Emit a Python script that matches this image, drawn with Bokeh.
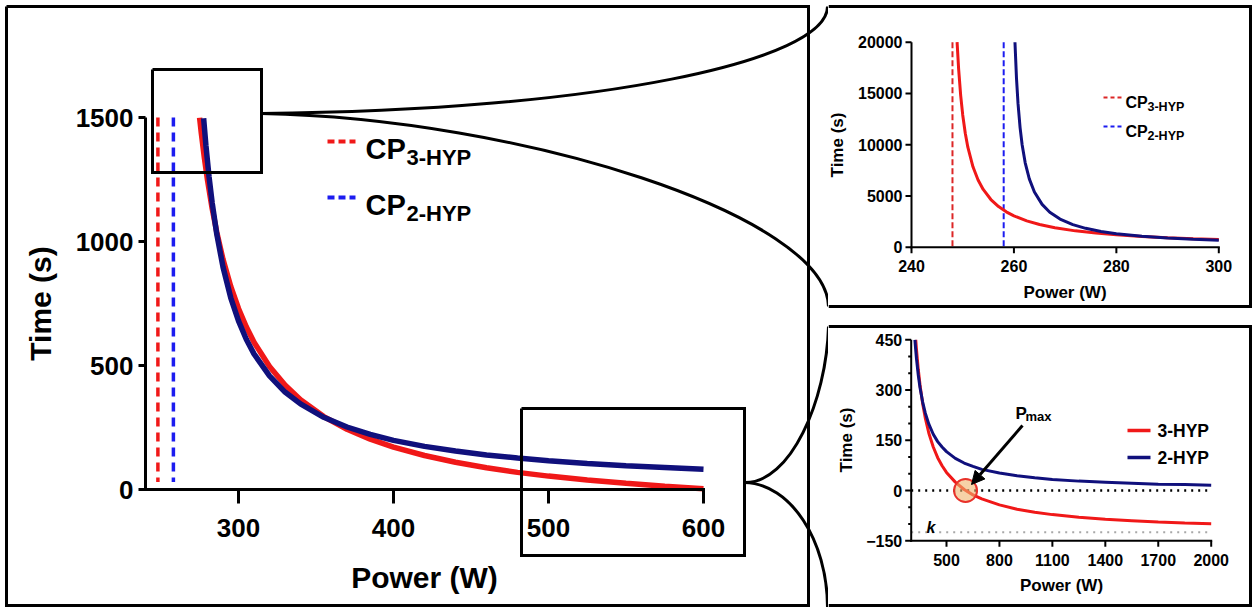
from bokeh.plotting import figure
from bokeh.layouts import row, column
from bokeh.models import Range1d, LinearAxis, FixedTicker, Arrow, NormalHead, BoxAnnotation
from bokeh.core.properties import value
from bokeh.embed import file_html
from bokeh.resources import INLINE

# ------------------------------------------------------------------ data
# main panel (Power W vs Time s)
MAIN_P_3HYP = [274.9, 276, 278, 280, 283, 286, 290, 295, 300, 305, 310, 320, 330, 340,
               355, 370, 385, 400, 420, 440, 460, 480, 500, 525, 550, 575, 600]
MAIN_T_3HYP = [1499, 1437, 1336, 1248, 1133, 1037, 928, 819, 730, 656, 594, 496, 421, 362,
               294, 243, 203, 171, 137, 110, 88, 69, 54, 38, 25, 13, 3]
MAIN_P_2HYP = [277.5, 279, 281, 283, 286, 290, 295, 300, 305, 310, 320, 330, 340,
               355, 370, 385, 400, 420, 440, 460, 480, 500, 525, 550, 575, 600]
MAIN_T_2HYP = [1497, 1386, 1261, 1157, 1029, 897, 773, 680, 606, 547, 458, 393, 345,
               291, 252, 222, 198, 174, 155, 139, 127, 116, 105, 96, 89, 82]
CP_3HYP = 248
CP_2HYP = 258
MAIN_CP_T = [1500, 30]
MAIN_X_BOUNDS = [240, 600]
MAIN_Y_BOUNDS = [0, 1500]
MAIN_X_TICKS = [300, 400, 500, 600]
MAIN_Y_TICKS = [0, 500, 1000, 1500]

# upper inset (zoom near critical power)
Z1_P_3HYP = [248.9, 249.2, 249.6, 250, 250.5, 251, 252, 253, 254, 255.5, 257, 258.5, 260,
             262.5, 265, 268, 272, 276, 280, 285, 290, 295, 300]
Z1_T_3HYP = [20000, 17391, 14815, 12903, 11111, 9756, 7843, 6557, 5634, 4651, 3960, 3448, 3053,
             2564, 2210, 1896, 1594, 1375, 1208, 1050, 928, 832, 753]
Z1_P_2HYP = [260.2, 260.5, 260.8, 261.2, 261.6, 262.2, 263, 264, 265.5, 267, 269, 271.5, 274,
             277, 280, 285, 290, 295, 300]
Z1_T_2HYP = [20000, 16471, 14000, 11667, 10000, 8235, 6667, 5385, 4179, 3415, 2745, 2205, 1842,
             1538, 1321, 1069, 897, 773, 680]
Z1_CP_T = [20000, 0]
Z1_X_BOUNDS = [240, 300]
Z1_Y_BOUNDS = [0, 20000]
Z1_X_TICKS = [240, 260, 280, 300]
Z1_Y_TICKS = [0, 5000, 10000, 15000, 20000]

# lower inset (high power region)
Z2_P_3HYP = [325.8, 330, 340, 350, 365, 380, 400, 425, 450, 475, 500, 550, 600, 650, 700,
             800, 900, 1000, 1100, 1250, 1400, 1550, 1700, 1850, 2000]
Z2_T_3HYP = [450, 421, 362, 315, 259, 216, 171, 130, 98, 74, 54, 25, 3, -13, -25,
             -43, -56, -65, -72, -80, -86, -90, -94, -97, -99]
Z2_P_2HYP = [321, 325, 330, 340, 350, 365, 380, 400, 425, 450, 475, 500, 550, 600, 650, 700,
             800, 900, 1000, 1100, 1250, 1400, 1550, 1700, 1850, 2000]
Z2_T_2HYP = [450, 423, 393, 345, 307, 264, 231, 198, 168, 146, 130, 116, 96, 82, 72, 63,
             52, 44, 38, 33, 28, 25, 22, 19, 18, 16]
Z2_ZERO_P = [300, 2000]
Z2_K = -125
PMAX_P = [608]
PMAX_T = [0]
Z2_X_BOUNDS = [300, 2000]
Z2_Y_BOUNDS = [-150, 450]
Z2_X_TICKS = [500, 800, 1100, 1400, 1700, 2000]
Z2_Y_TICKS = [-150, 0, 150, 300, 450]
Z2_Y_MINOR = [-100, -50, 50, 100, 200, 250, 350, 400]

# ------------------------------------------------------------------ style
FONT = "Liberation Sans"
RED = "#f01818"
NAVY = "#10107c"
BLUE = "#1c1cf0"
DRED = "#dc2626"
BLACK = "black"


def make_fig(w, h, xp0, xv0, xp1, xv1, yp0, yv0, yp1, yv1):
    sx = (xp1 - xp0) / (xv1 - xv0)
    sy = (yp0 - yp1) / (yv1 - yv0)
    xr = Range1d(xv0 - xp0 / sx, xv0 + (w - xp0) / sx)
    yr = Range1d(yv0 - (h - yp0) / sy, yv0 + yp0 / sy)
    p = figure(width=w, height=h, x_range=xr, y_range=yr, output_backend="svg",
               toolbar_location=None, min_border=0, x_axis_type=None, y_axis_type=None)
    p.outline_line_color = None
    p.background_fill_color = "white"
    p.border_fill_color = "white"
    p.title.visible = False

    def fx(px):
        return xv0 + (px - xp0) / sx

    def fy(py):
        return yv0 + (yp0 - py) / sy

    def gx(v):
        return xp0 + (v - xv0) * sx

    def gy(v):
        return yp0 - (v - yv0) * sy
    return p, fx, fy, gx, gy


def style_axis(ax, tick_out, lab_px, lab_off, title_px, title_off):
    ax.axis_line_alpha = 0
    ax.major_tick_line_alpha = 0
    ax.minor_tick_line_alpha = 0
    ax.major_tick_out = tick_out
    ax.major_tick_in = 0
    ax.minor_tick_in = 0
    ax.minor_tick_out = 0
    ax.major_label_text_font = FONT
    ax.major_label_text_font_style = "bold"
    ax.major_label_text_font_size = f"{lab_px}px"
    ax.major_label_text_color = BLACK
    ax.major_label_standoff = lab_off
    ax.axis_label_text_font = FONT
    ax.axis_label_text_font_style = "bold"
    ax.axis_label_text_font_size = f"{title_px}px"
    ax.axis_label_text_color = BLACK
    ax.axis_label_standoff = title_off


def poly(p, fx, fy, pts, lw=3, color=BLACK, dash="solid"):
    p.line(x=[fx(a) for a, _ in pts], y=[fy(b) for _, b in pts], line_width=lw,
           line_color=color, line_dash=dash, line_join="miter")


def spine(p, fx, fy, gx, gy, xb, yb, xticks, yticks, xout, yout, lw, yminor=(), yminor_out=0):
    """Axis rule and ticks as filled black bars (pixel rectangles -> data)."""
    h = lw / 2.0
    x0p, y0p = gx(xb[0]), gy(yb[0])
    rects = [(x0p - h, x0p + h, gy(yb[1]), y0p + h),           # vertical rule
             (x0p - h, gx(xb[1]) + h, y0p - h, y0p + h)]        # horizontal rule
    for t in xticks:
        rects.append((gx(t) - h, gx(t) + h, y0p, y0p + xout))
    for t in yticks:
        rects.append((x0p - yout, x0p, gy(t) - h, gy(t) + h))
    for t in yminor:
        rects.append((x0p - yminor_out, x0p, gy(t) - h, gy(t) + h))
    for (l, r, tp, bt) in rects:
        p.add_layout(BoxAnnotation(left=fx(l), right=fx(r), top=fy(tp), bottom=fy(bt),
                                   fill_color=BLACK, fill_alpha=1.0, line_color=None,
                                   level="overlay"))


def txt(p, fx, fy, x, y, s, size, style="bold", align="left", baseline="alphabetic"):
    p.text(x=[fx(x)], y=[fy(y)], text=[s], text_font=value(FONT), text_font_size=f"{size}px",
           text_font_style=style, text_align=align, text_baseline=baseline, text_color=BLACK)


def curve(p, fx, fy, a, b, c, d, lw=3):
    p.bezier(x0=[fx(a[0])], y0=[fy(a[1])], x1=[fx(d[0])], y1=[fy(d[1])],
             cx0=[fx(b[0])], cy0=[fy(b[1])], cx1=[fx(c[0])], cy1=[fy(c[1])],
             line_width=lw, line_color=BLACK)


# ------------------------------------------------------------------ main panel
main, mx, my, mgx, mgy = make_fig(828, 607, 145, 240, 703, 600, 489, 0, 117, 1500)

main.line([CP_3HYP, CP_3HYP], MAIN_CP_T, line_color=RED, line_width=3.5, line_dash="9 6")
main.line([CP_2HYP, CP_2HYP], MAIN_CP_T, line_color=BLUE, line_width=3.5, line_dash="9 6")
main.line(MAIN_P_3HYP, MAIN_T_3HYP, line_color=RED, line_width=5.5)
main.line(MAIN_P_2HYP, MAIN_T_2HYP, line_color=NAVY, line_width=5.5)

yax = LinearAxis(fixed_location=MAIN_X_BOUNDS[0], bounds=tuple(MAIN_Y_BOUNDS),
                 ticker=FixedTicker(ticks=MAIN_Y_TICKS), axis_label="Time (s)")
style_axis(yax, 7, 26, 5, 30, 16)
main.add_layout(yax, "left")
xax = LinearAxis(fixed_location=MAIN_Y_BOUNDS[0], bounds=tuple(MAIN_X_BOUNDS),
                 ticker=FixedTicker(ticks=MAIN_X_TICKS), axis_label="Power (W)")
style_axis(xax, 14, 26, 15, 30, 21)
main.add_layout(xax, "below")
spine(main, mx, my, mgx, mgy, MAIN_X_BOUNDS, MAIN_Y_BOUNDS, MAIN_X_TICKS, MAIN_Y_TICKS,
      14, 7, 3)

# legend
main.line([mx(327), mx(355)], [my(141)] * 2, line_color=RED, line_width=4, line_dash="7 4")
main.line([mx(327), mx(355)], [my(197)] * 2, line_color=BLUE, line_width=4, line_dash="7 4")
txt(main, mx, my, 365, 148, "CP", 29)
txt(main, mx, my, 406, 157, "3-HYP", 22)
txt(main, mx, my, 365, 204, "CP", 29)
txt(main, mx, my, 406, 213, "2-HYP", 22)

# frames, zoom boxes, connectors
poly(main, mx, my, [(6, 6), (808, 6), (808, 605), (6, 605), (6, 6)])
poly(main, mx, my, [(152, 69), (261, 69), (261, 172), (152, 172), (152, 69)])
poly(main, mx, my, [(521, 408), (744, 408), (744, 555), (521, 555), (521, 408)])
curve(main, mx, my, (261, 113), (600, 110), (827, 60), (827, 6))
curve(main, mx, my, (261, 113), (520, 118), (826, 215), (828, 306))
curve(main, mx, my, (744, 482), (790, 483), (826, 400), (828, 326))
curve(main, mx, my, (744, 482), (790, 483), (827, 540), (827, 607))

# ------------------------------------------------------------------ upper inset
z1, ax1, ay1, gx1, gy1 = make_fig(426, 316, 83, 240, 390.3, 300, 246.7, 0, 41.7, 20000)
z1.line([CP_3HYP, CP_3HYP], Z1_CP_T, line_color=DRED, line_width=2, line_dash="6 3")
z1.line([CP_2HYP, CP_2HYP], Z1_CP_T, line_color=BLUE, line_width=2, line_dash="6 3")
z1.line(Z1_P_3HYP, Z1_T_3HYP, line_color=RED, line_width=3)
z1.line(Z1_P_2HYP, Z1_T_2HYP, line_color=NAVY, line_width=3)

y1 = LinearAxis(fixed_location=Z1_X_BOUNDS[0], bounds=tuple(Z1_Y_BOUNDS),
                ticker=FixedTicker(ticks=Z1_Y_TICKS), axis_label="Time (s)")
style_axis(y1, 6, 16, 3, 17, 8)
z1.add_layout(y1, "left")
x1 = LinearAxis(fixed_location=Z1_Y_BOUNDS[0], bounds=tuple(Z1_X_BOUNDS),
                ticker=FixedTicker(ticks=Z1_X_TICKS), axis_label="Power (W)")
style_axis(x1, 6, 16, 7, 17, 7)
z1.add_layout(x1, "below")
spine(z1, ax1, ay1, gx1, gy1, Z1_X_BOUNDS, Z1_Y_BOUNDS, Z1_X_TICKS, Z1_Y_TICKS, 6, 6, 2)

z1.line([ax1(275), ax1(294)], [ay1(97)] * 2, line_color=DRED, line_width=2, line_dash="4 3")
z1.line([ax1(275), ax1(294)], [ay1(126)] * 2, line_color=BLUE, line_width=2, line_dash="4 3")
txt(z1, ax1, ay1, 297, 102, "CP", 16)
txt(z1, ax1, ay1, 319, 106, "3-HYP", 12.5)
txt(z1, ax1, ay1, 297, 131, "CP", 16)
txt(z1, ax1, ay1, 319, 135, "2-HYP", 12.5)

poly(z1, ax1, ay1, [(0, 6), (422, 6), (422, 306), (0, 306)])

# ------------------------------------------------------------------ lower inset
z2, ax2, ay2, gx2, gy2 = make_fig(426, 291, 82.7, 300, 382.7, 2000, 174, 0, 23.3, 450)
z2.line(Z2_ZERO_P, [0, 0], line_color=BLACK, line_width=2.5, line_dash="2 5")
z2.line(Z2_ZERO_P, [Z2_K, Z2_K], line_color="#a8a8a8", line_width=2, line_dash="2 5")
z2.line(Z2_P_3HYP, Z2_T_3HYP, line_color=RED, line_width=3)
z2.line(Z2_P_2HYP, Z2_T_2HYP, line_color=NAVY, line_width=3)
z2.scatter(PMAX_P, PMAX_T, marker="circle", size=23, fill_color="#f0b46c", fill_alpha=0.6,
           line_color="#e8322a", line_width=2)

y2 = LinearAxis(fixed_location=Z2_X_BOUNDS[0], bounds=tuple(Z2_Y_BOUNDS),
                ticker=FixedTicker(ticks=Z2_Y_TICKS), axis_label="Time (s)")
style_axis(y2, 6, 16, 3, 17, 7)
z2.add_layout(y2, "left")
x2 = LinearAxis(fixed_location=Z2_Y_BOUNDS[0], bounds=tuple(Z2_X_BOUNDS),
                ticker=FixedTicker(ticks=Z2_X_TICKS), axis_label="Power (W)")
style_axis(x2, 6, 16, 7, 17, 7)
z2.add_layout(x2, "below")
spine(z2, ax2, ay2, gx2, gy2, Z2_X_BOUNDS, Z2_Y_BOUNDS, Z2_X_TICKS, Z2_Y_TICKS, 6, 6, 2,
      yminor=Z2_Y_MINOR, yminor_out=3)

z2.add_layout(Arrow(end=NormalHead(size=13, fill_color=BLACK, line_color=BLACK),
                    x_start=ax2(194), y_start=ay2(109), x_end=ax2(143), y_end=ay2(168),
                    line_width=3, line_color=BLACK))
txt(z2, ax2, ay2, 187, 97, "P", 17)
txt(z2, ax2, ay2, 197, 100, "max", 13)
txt(z2, ax2, ay2, 98, 211, "k", 16, style="bold italic")

z2.line([ax2(299), ax2(322)], [ay2(114)] * 2, line_color=RED, line_width=3.5)
z2.line([ax2(299), ax2(322)], [ay2(141)] * 2, line_color=NAVY, line_width=3.5)
txt(z2, ax2, ay2, 329, 114, "3-HYP", 17.5, baseline="middle")
txt(z2, ax2, ay2, 329, 141, "2-HYP", 17.5, baseline="middle")

poly(z2, ax2, ay2, [(0, 10), (422, 10), (422, 289), (0, 289)])

layout = row(main, column(z1, z2, spacing=0), spacing=0)
open("out.html", "w").write(file_html(layout, INLINE))
